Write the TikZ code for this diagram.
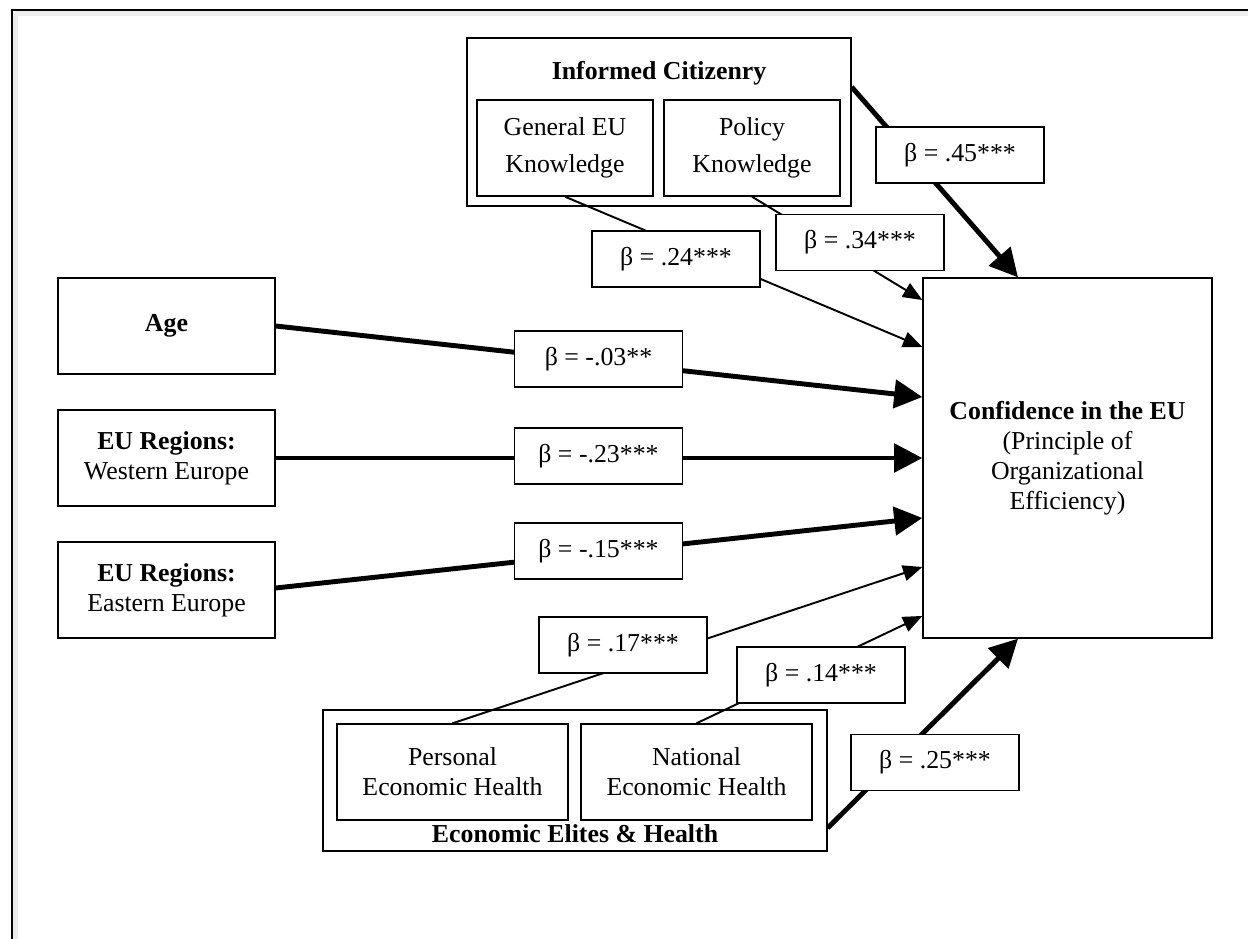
\documentclass[tikz,border=0pt]{standalone}
\usepackage{fontspec}
\setmainfont{Liberation Serif}
\usetikzlibrary{arrows.meta}

\begin{document}
\begin{tikzpicture}[x=0.02cm, y=-0.02cm,
    every node/.style={font=\fontsize{14.7}{17}\selectfont},
    var/.style={draw, line width=0.8pt, align=center, inner sep=0pt},
    group/.style={var, minimum width=#1},
    knows/.style={var, minimum width=3.52cm, minimum height=1.92cm,
                  font=\fontsize{14.7}{21}\selectfont},
    health/.style={var, minimum width=4.62cm, minimum height=1.92cm},
    pred/.style={var, minimum width=4.34cm, minimum height=1.92cm},
    coef/.style={var, fill=white, minimum width=3.36cm, minimum height=1.12cm},
    strong/.style={line width=2.8pt, -{Triangle[length=16pt, width=16pt]}},
    weak/.style={line width=1.1pt, -{Triangle[length=11pt, width=9pt]}}]
  \useasboundingbox (0,0) rectangle (1248,939);
  % page frame
  \draw[black!7, line width=3pt] (15,13.5) -- (1248,13.5);
  \draw[black!7, line width=3pt] (15.5,13) -- (15.5,939);
  \draw[line width=1.4pt] (12,939) -- (12,10) -- (1248,10);

  % outcome
  \node[var, minimum width=5.78cm, minimum height=7.2cm] (conf) at (1067.5,458)
    {\textbf{Confidence in the EU}\\(Principle of\\Organizational\\Efficiency)};

  % informed citizenry
  \node[group=7.68cm, minimum height=3.36cm] (info) at (659,122) {};
  \node[font=\fontsize{14.7}{17}\selectfont\bfseries] (infotitle) at (659,73) {Informed Citizenry};
  \node[knows] (general) at (565,148) {General EU\\Knowledge};
  \node[knows] (policy) at (752,148) {Policy\\Knowledge};

  % single predictors
  \node[pred] (age) at (166.5,326) {\textbf{Age}};
  \node[pred] (west) at (166.5,458) {\textbf{EU Regions:}\\Western Europe};
  \node[pred] (east) at (166.5,590) {\textbf{EU Regions:}\\Eastern Europe};

  % economic elites
  \node[group=10.08cm, minimum height=2.82cm] (econ) at (575,780.5) {};
  \node[health] (personal) at (452.5,772) {Personal\\Economic Health};
  \node[health] (national) at (696.5,772) {National\\Economic Health};
  \node[font=\fontsize{14.7}{17}\selectfont\bfseries] (econtitle) at (575,834) {Economic Elites \& Health};

  % paths
  \draw[strong] ([yshift=0.7cm]info.east) -- ([xshift=-0.99cm]conf.north);
  \draw[weak] (policy.south) -- ([yshift=3.16cm]conf.west);
  \draw[weak] (general.south) -- ([yshift=2.22cm]conf.west);
  \draw[strong] (age.east) -- ([yshift=1.22cm]conf.west);
  \draw[strong] (west.east) -- (conf.west);
  \draw[strong] ([yshift=0.04cm]east.east) -- ([yshift=-1.2cm]conf.west);
  \draw[weak] (personal.north) -- ([yshift=-2.18cm]conf.west);
  \draw[weak] (national.north) -- ([yshift=-3.16cm]conf.west);
  \draw[strong] ([yshift=-0.95cm]econ.east) -- ([xshift=-0.99cm]conf.south);

  % coefficients
  \node[coef] (b45) at (960,155) {β = .45***};
  \node[coef] (b34) at (860,242.5) {β = .34***};
  \node[coef] (b24) at (676,259) {β = .24***};
  \node[coef] (b03) at (598.5,359) {β = -.03**};
  \node[coef] (b23) at (598.5,456) {β = -.23***};
  \node[coef] (b15) at (598.5,551) {β = -.15***};
  \node[coef] (b17) at (623,645) {β = .17***};
  \node[coef] (b14) at (821,675) {β = .14***};
  \node[coef] (b25) at (935,762.5) {β = .25***};
\end{tikzpicture}
\end{document}
